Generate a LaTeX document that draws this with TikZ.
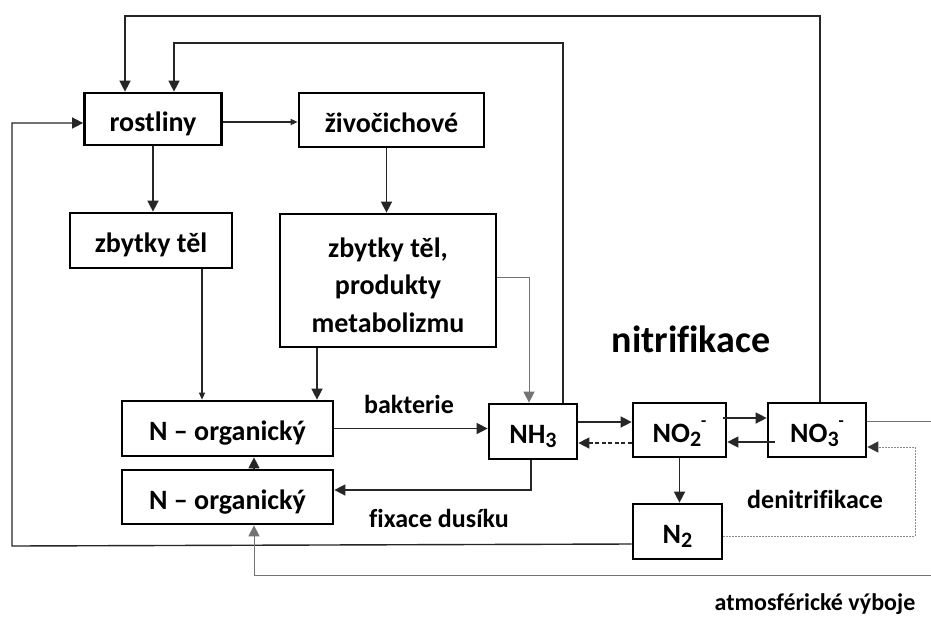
\documentclass[tikz,border=0pt]{standalone}
\usepackage{fontspec}
\setmainfont{Carlito}[Ligatures=NoCommon]
\usetikzlibrary{arrows.meta}
\newcommand{\chsub}[1]{\raisebox{-0.3ex}{\fontsize{22}{22}\selectfont #1}}
\newcommand{\chsup}[1]{\raisebox{1.15ex}{\fontsize{17}{17}\selectfont #1}}
\begin{document}
\begin{tikzpicture}[x=1pt,y=-1pt,
  box/.style={draw=black, line width=2.7pt, fill=white, inner sep=0pt,
    font=\fontsize{28}{37.5}\selectfont\bfseries, align=center},
  one/.style={text height=29pt, text depth=5pt},
  conn/.style={line width=1.4pt, draw=black!85},
  arr/.style={conn, -{Triangle[length=11pt,width=11pt]}},
  sarr/.style={conn, -{Triangle[length=7pt,width=6pt]}},
  thinl/.style={line width=1pt, draw=black!55},
  lbl/.style={font=\fontsize{26}{30}\selectfont\bfseries, inner sep=0pt}
]
\fill[white] (0,0) rectangle (931,616);
\useasboundingbox (0,0) rectangle (931,616);

% boxes
\node[box, one, minimum width=137, minimum height=52] (rost) at (153,119) {rostliny};
\node[box, one, minimum width=185, minimum height=54] (ziv) at (391.5,120) {živočichové};
\node[box, one, minimum width=162, minimum height=55] (zb1) at (151,240.5) {zbytky těl};
\node[box, minimum width=216, minimum height=133] (zb2) at (388,280.5) {\rule{0pt}{29pt}zbytky těl,\\produkty\\metabolizmu};
\node[box, one, minimum width=211, minimum height=55] (norg1) at (227.5,428.5) {N – organický};
\node[box, one, minimum width=211, minimum height=54] (norg2) at (227.5,497) {N – organický};
\node[box, one, minimum width=88, minimum height=55] (nh3) at (533,431.5) {NH\chsub{3}};
\node[box, one, minimum width=93, minimum height=54] (no2) at (679.5,430) {NO\chsub{2}\chsup{-}};
\node[box, one, minimum width=98, minimum height=54] (no3) at (817,430) {NO\chsub{3}\chsup{-}};
\node[box, one, minimum width=89, minimum height=55] (n2) at (677.5,531.5) {N\chsub{2}};

% labels
\node[lbl] (lbak) at (409,404) {bakterie};
\node[lbl] (lfix) at (439,518) {fixace dusíku};
\node[lbl, font=\fontsize{38}{40}\selectfont\bfseries] (lnit) at (691,339) {nitrifikace};
\node[lbl] (lden) at (815,499) {denitrifikace};
\node[lbl, font=\fontsize{24}{28}\selectfont\bfseries] (latm) at (815,604) {atmosférické výboje};

% free ends
\coordinate (t1) at (125,16);
\coordinate (t2) at (174,43);
\coordinate (l1) at (12,546);
\coordinate (b1) at (931,575);
\coordinate (r1) at (931,421);
\coordinate (r2) at (915,536);

% top loops
\draw[arr] ([xshift=3pt]no3.north) |- (t1) -- (t1 |- rost.north);
\draw[arr] ([xshift=30pt]nh3.north) |- (t2) -- (t2 |- rost.north);

% left loop from N2
\draw[arr] ([yshift=-12.5pt]n2.west) -- (l1) |- ([yshift=-4pt]rost.west);

% atmospheric discharges
\draw[arr, thinl] (b1) -| ([xshift=26.5pt]norg2.south);

% upper part
\draw[sarr] ([yshift=-3pt]rost.east) -- ([yshift=-3pt]rost.east -| ziv.west);
\draw[arr] (rost.south) -- (rost.south |- zb1.north);
\draw[arr] ([xshift=-5pt]ziv.south) -- ([xshift=-5pt]ziv.south |- zb2.north);
\draw[sarr] ([xshift=51pt]zb1.south) -- ([xshift=51pt]zb1.south |- norg1.north);
\draw[arr] ([xshift=-71pt]zb2.south) -- ([xshift=-71pt]zb2.south |- norg1.north);
\draw[arr, thinl] ([yshift=3.5pt]zb2.east) -| ([xshift=-4pt]nh3.north);

% N organic
\draw[arr] ([xshift=26.5pt]norg2.north) -- ([xshift=26.5pt]norg1.south);
\draw[arr] (norg1.east) -- (norg1.east -| nh3.west);
\draw[arr] ([xshift=-2pt]nh3.south) |- ([yshift=7pt]norg2.east);

% nitrification chain
\draw[arr] ([yshift=9.5pt]nh3.east) -- ([yshift=9.5pt]nh3.east -| no2.west);
\draw[arr, dash pattern=on 4pt off 2.5pt] ([yshift=-13pt]no2.west) -- ([yshift=-13pt]no2.west -| nh3.east);
\draw[arr] ([yshift=12pt,xshift=-4pt]no2.east) -- ([yshift=12pt]no2.east -| no3.west);
\draw[arr] ([yshift=-12pt,xshift=8pt]no3.west) -- ([yshift=-12pt]no3.west -| no2.east);
\draw[arr] (no2.south) -- (no2.south |- n2.north);
\draw[thinl] ([yshift=9pt]no3.east) -- (r1);
\draw[line width=1pt, draw=black!45, dash pattern=on 1.5pt off 1.5pt,
  -{Triangle[length=11pt,width=11pt,color=black!80]}]
  ([yshift=-4.5pt]n2.east) -- (r2) |- ([yshift=-17pt]no3.east);
\end{tikzpicture}
\end{document}
